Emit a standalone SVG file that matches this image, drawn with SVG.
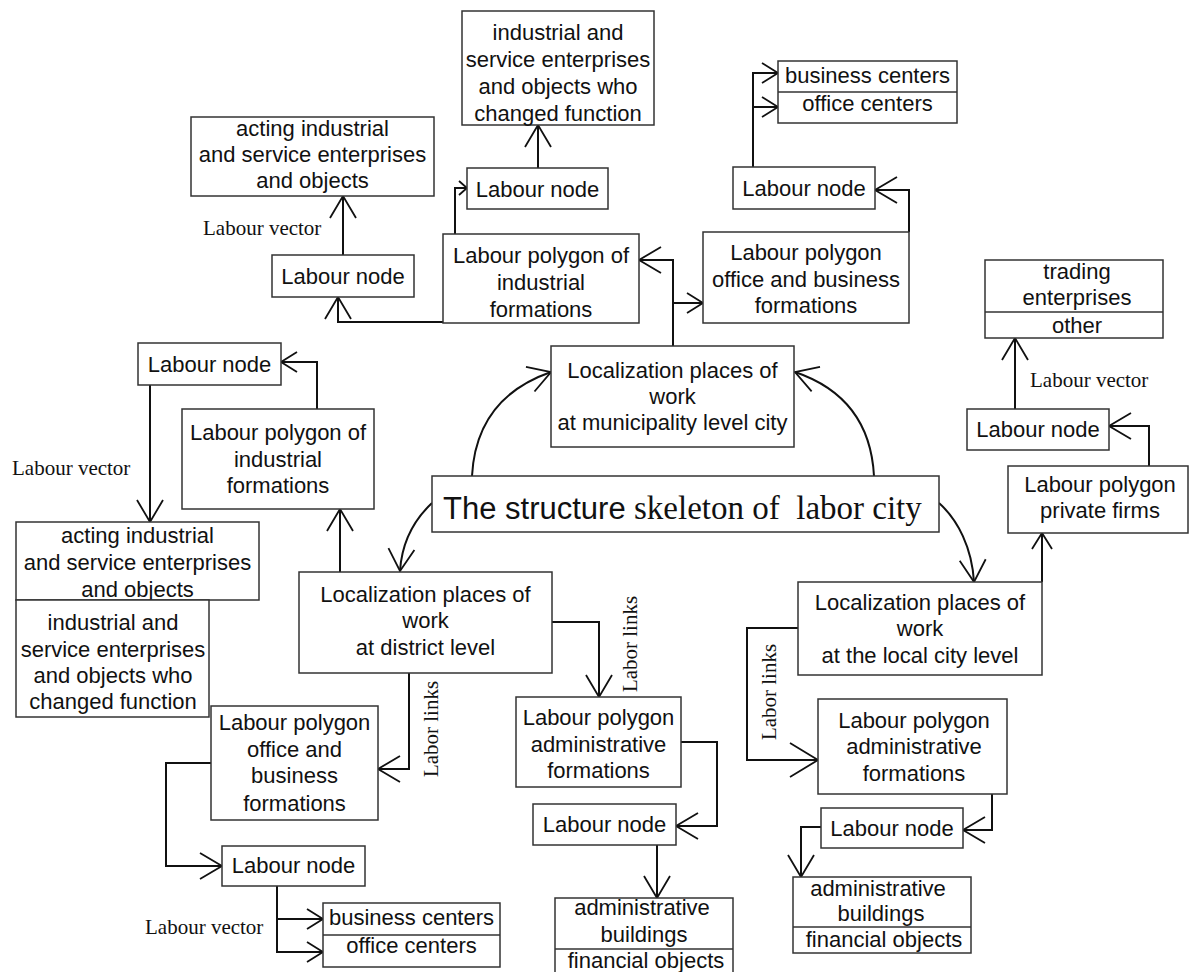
<svg xmlns="http://www.w3.org/2000/svg" width="1190" height="972" viewBox="0 0 1190 972">
<style>
.bg{fill:#fff}
.box{fill:#fff;stroke:#333;stroke-width:1.5}
.dv{stroke:#333;stroke-width:1.5}
.t{font-family:"Liberation Sans",Arial,sans-serif;font-size:22px;fill:#111;text-anchor:middle}
.v{font-family:"Liberation Serif","Times New Roman",serif;font-size:21px;fill:#111}
.c{fill:none;stroke:#111;stroke-width:2}
.ah{fill:none;stroke:#111;stroke-width:1.8}
</style>
<defs>
<marker id="a" viewBox="-30 -16 32 32" markerWidth="32" markerHeight="32" refX="0" refY="0" orient="auto" markerUnits="userSpaceOnUse"><path class="ah" d="M-22,-13 L0,0 L-22,13"/></marker>
<marker id="m" viewBox="-30 -16 32 32" markerWidth="32" markerHeight="32" refX="0" refY="0" orient="auto" markerUnits="userSpaceOnUse"><path class="ah" d="M-16,-10 L0,0 L-16,10"/></marker>
<marker id="s" viewBox="-30 -16 32 32" markerWidth="32" markerHeight="32" refX="0" refY="0" orient="auto" markerUnits="userSpaceOnUse"><path class="ah" d="M-8,-7 L0,0 L-8,7"/></marker>
<marker id="L" viewBox="-34 -20 36 40" markerWidth="36" markerHeight="40" refX="0" refY="0" orient="auto" markerUnits="userSpaceOnUse"><path class="ah" d="M-28,-17 L0,0 L-28,17"/></marker>
</defs>
<rect class="bg" x="0" y="0" width="1190" height="972"/>

<g id="connectors">
<path class="c" d="M673,346 V260 H639" marker-end="url(#a)"/>
<path class="c" d="M673,303 H703" marker-end="url(#m)"/>
<path class="c" d="M443,322 H338 V297" marker-end="url(#a)"/>
<path class="c" d="M343,255 V196" marker-end="url(#a)"/>
<path class="c" d="M455,234 V188 H467" marker-end="url(#s)"/>
<path class="c" d="M538,168 V125" marker-end="url(#a)"/>
<path class="c" d="M909,232 V190 H875" marker-end="url(#a)"/>
<path class="c" d="M753,167 V73 H778" marker-end="url(#m)"/>
<path class="c" d="M753,107 H778" marker-end="url(#m)"/>
<path class="c" d="M1015,409 V338" marker-end="url(#a)"/>
<path class="c" d="M1149,466 V426 H1109" marker-end="url(#a)"/>
<path class="c" d="M1042,582 V533" marker-end="url(#m)"/>
<path class="c" d="M317,409 V362 H281" marker-end="url(#m)"/>
<path class="c" d="M150,385 V522" marker-end="url(#a)"/>
<path class="c" d="M340,572 V509" marker-end="url(#a)"/>
<path class="c" d="M409,673 V769 H378" marker-end="url(#a)"/>
<path class="c" d="M211,763 H166 V866 H222" marker-end="url(#a)"/>
<path class="c" d="M277,886 V952 H323" marker-end="url(#m)"/>
<path class="c" d="M277,919 H323" marker-end="url(#m)"/>
<path class="c" d="M552,622 H599 V697" marker-end="url(#a)"/>
<path class="c" d="M681,742 H717 V826 H676" marker-end="url(#a)"/>
<path class="c" d="M657,845 V898" marker-end="url(#a)"/>
<path class="c" d="M798,628 H747 V760 H818" marker-end="url(#L)"/>
<path class="c" d="M992,794 V830 H963" marker-end="url(#a)"/>
<path class="c" d="M821,827 H801 V877" marker-end="url(#a)"/>
<path class="c" d="M472,476 C475,420 505,388 551,372" marker-end="url(#a)"/>
<path class="c" d="M874,476 C871,420 842,388 795,372" marker-end="url(#a)"/>
<path class="c" d="M432,503 C416,518 402,540 400,571" marker-end="url(#a)"/>
<path class="c" d="M939,503 C958,520 972,548 974,582" marker-end="url(#a)"/>
</g>

<g id="labels">
<text class="v" x="203" y="235">Labour vector</text>
<text class="v" x="12" y="475">Labour vector</text>
<text class="v" x="1030" y="387">Labour vector</text>
<text class="v" x="145" y="934">Labour vector</text>
<text class="v" text-anchor="middle" transform="translate(438,729) rotate(-90)">Labor links</text>
<text class="v" text-anchor="middle" transform="translate(637,644) rotate(-90)">Labor links</text>
<text class="v" text-anchor="middle" transform="translate(776,692) rotate(-90)">Labor links</text>
</g>

<g id="n-top-changed"><rect class="box" x="462" y="11" width="192" height="114"/>
<text class="t" x="558" y="40">industrial and</text><text class="t" x="558" y="67">service enterprises</text><text class="t" x="558" y="94">and objects who</text><text class="t" x="558" y="121">changed function</text></g>

<g id="n-top-acting"><rect class="box" x="191" y="117" width="243" height="79"/>
<text class="t" x="312.5" y="136">acting industrial</text><text class="t" x="312.5" y="162">and service enterprises</text><text class="t" x="312.5" y="188">and objects</text></g>

<g id="n-top-node-mid"><rect class="box" x="467" y="168" width="141" height="41"/><text class="t" x="537.5" y="197">Labour node</text></g>

<g id="n-top-centers"><rect class="box" x="778" y="61" width="179" height="62"/><line class="dv" x1="778" y1="92" x2="957" y2="92"/>
<text class="t" x="867.5" y="83">business centers</text><text class="t" x="867.5" y="111">office centers</text></g>

<g id="n-top-node-right"><rect class="box" x="733" y="167" width="142" height="42"/><text class="t" x="804" y="196">Labour node</text></g>

<g id="n-top-node-left"><rect class="box" x="272" y="255" width="142" height="42"/><text class="t" x="343" y="284">Labour node</text></g>

<g id="n-top-poly-ind"><rect class="box" x="443" y="234" width="196" height="89"/>
<text class="t" x="541" y="263">Labour polygon of</text><text class="t" x="541" y="290">industrial</text><text class="t" x="541" y="317">formations</text></g>

<g id="n-top-poly-office"><rect class="box" x="703" y="232" width="206" height="91"/>
<text class="t" x="806" y="260">Labour polygon</text><text class="t" x="806" y="287">office and business</text><text class="t" x="806" y="313">formations</text></g>

<g id="n-trading"><rect class="box" x="985" y="260" width="178" height="78"/><line class="dv" x1="985" y1="312" x2="1163" y2="312"/>
<text class="t" x="1077" y="279">trading</text><text class="t" x="1077" y="305">enterprises</text><text class="t" x="1077" y="333">other</text></g>

<g id="n-municipality"><rect class="box" x="551" y="346" width="243" height="101"/>
<text class="t" x="672.5" y="378">Localization places of</text><text class="t" x="672.5" y="404">work</text><text class="t" x="672.5" y="430">at municipality level city</text></g>

<g id="n-node-right"><rect class="box" x="967" y="409" width="142" height="41"/><text class="t" x="1038" y="437">Labour node</text></g>

<g id="n-poly-private"><rect class="box" x="1008" y="466" width="180" height="67"/>
<text class="t" x="1100" y="492">Labour polygon</text><text class="t" x="1100" y="518">private firms</text></g>

<g id="n-structure"><rect class="box" x="432" y="476" width="507" height="56"/>
<text y="519" fill="#111"><tspan x="443" font-family="Liberation Sans, Arial, sans-serif" font-size="31">The structure</tspan><tspan x="634" font-family="Liberation Serif, Times New Roman, serif" font-size="33" xml:space="preserve">skeleton of  labor city</tspan></text></g>

<g id="n-node-left"><rect class="box" x="138" y="343" width="143" height="42"/><text class="t" x="209.5" y="372">Labour node</text></g>

<g id="n-poly-ind-left"><rect class="box" x="182" y="409" width="192" height="100"/>
<text class="t" x="278" y="440">Labour polygon of</text><text class="t" x="278" y="467">industrial</text><text class="t" x="278" y="493">formations</text></g>

<g id="n-acting-left"><rect class="box" x="16" y="522" width="243" height="78"/>
<text class="t" x="137.5" y="543">acting industrial</text><text class="t" x="137.5" y="570">and service enterprises</text><text class="t" x="137.5" y="597">and objects</text></g>

<g id="n-changed-left"><rect class="box" x="16" y="600" width="193" height="117"/>
<text class="t" x="113" y="630">industrial and</text><text class="t" x="113" y="657">service enterprises</text><text class="t" x="113" y="683">and objects who</text><text class="t" x="113" y="709">changed function</text></g>

<g id="n-district"><rect class="box" x="299" y="572" width="253" height="101"/>
<text class="t" x="425.5" y="602">Localization places of</text><text class="t" x="425.5" y="628">work</text><text class="t" x="425.5" y="655">at district level</text></g>

<g id="n-local"><rect class="box" x="798" y="582" width="244" height="93"/>
<text class="t" x="920" y="610">Localization places of</text><text class="t" x="920" y="636">work</text><text class="t" x="920" y="663">at the local city level</text></g>

<g id="n-poly-office-left"><rect class="box" x="211" y="706" width="167" height="114"/>
<text class="t" x="294.5" y="730">Labour polygon</text><text class="t" x="294.5" y="757">office and</text><text class="t" x="294.5" y="783">business</text><text class="t" x="294.5" y="811">formations</text></g>

<g id="n-node-bottom-left"><rect class="box" x="222" y="846" width="143" height="40"/><text class="t" x="293.5" y="873">Labour node</text></g>

<g id="n-centers-bottom"><rect class="box" x="323" y="903" width="177" height="64"/><line class="dv" x1="323" y1="935" x2="500" y2="935"/>
<text class="t" x="411.5" y="925">business centers</text><text class="t" x="411.5" y="953">office centers</text></g>

<g id="n-poly-admin-mid"><rect class="box" x="516" y="697" width="165" height="90"/>
<text class="t" x="598.5" y="725">Labour polygon</text><text class="t" x="598.5" y="752">administrative</text><text class="t" x="598.5" y="778">formations</text></g>

<g id="n-node-mid"><rect class="box" x="533" y="804" width="143" height="41"/><text class="t" x="604.5" y="832">Labour node</text></g>

<g id="n-admin-mid"><rect class="box" x="555" y="898" width="178" height="78"/><line class="dv" x1="555" y1="949" x2="733" y2="949"/>
<text class="t" x="642" y="915">administrative</text><text class="t" x="644" y="942">buildings</text><text class="t" x="646" y="968">financial objects</text></g>

<g id="n-poly-admin-right"><rect class="box" x="818" y="699" width="189" height="95"/>
<text class="t" x="914" y="728">Labour polygon</text><text class="t" x="914" y="754">administrative</text><text class="t" x="914" y="781">formations</text></g>

<g id="n-node-right-bottom"><rect class="box" x="821" y="808" width="142" height="40"/><text class="t" x="892" y="836">Labour node</text></g>

<g id="n-admin-right"><rect class="box" x="793" y="877" width="178" height="76"/><line class="dv" x1="793" y1="927" x2="971" y2="927"/>
<text class="t" x="878" y="896">administrative</text><text class="t" x="881" y="921">buildings</text><text class="t" x="884" y="947">financial objects</text></g>
</svg>
